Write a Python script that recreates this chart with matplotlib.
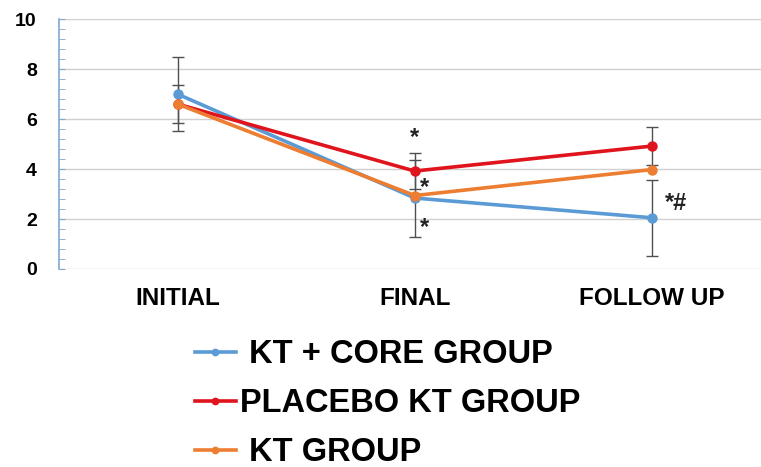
"""
plot.py -- three-group line chart with SD error bars (INITIAL / FINAL / FOLLOW UP)
Output: out.png (761 x 467 px)
"""
import matplotlib
matplotlib.use("Agg")
import matplotlib.pyplot as plt
from matplotlib.ticker import MultipleLocator

# ── Data ──────────────────────────────────────────────────────────────────────
CATEGORIES = ["INITIAL", "FINAL", "FOLLOW UP"]

core_mean    = [7.0, 2.84, 2.05]
core_sd      = [1.48, 1.54, 1.52]
placebo_mean = [6.6, 3.92, 4.92]
placebo_sd   = [0.75, 0.73, 0.75]
kt_mean      = [6.6, 2.94, 3.98]

SERIES = [
    (" KT + CORE GROUP",   core_mean,    core_sd,    "#5B9BD5"),
    ("PLACEBO KT GROUP",   placebo_mean, placebo_sd, "#E0141C"),
    (" KT GROUP",          kt_mean,      None,       "#ED7D31"),
]

# significance marks: (category index, y value, text, x offset)
MARKS = [
    (1, 5.25, "*",  0.0),
    (1, 3.25, "*",  0.04),
    (1, 1.65, "*",  0.04),
    (2, 2.62, "*#", 0.1),
]

plt.rcParams.update({
    "font.family": ["Liberation Sans", "DejaVu Sans"],
    "font.weight": "bold",
})

fig = plt.figure(figsize=(7.61, 4.67), dpi=100)
ax = fig.add_axes([0.0775, 0.424, 0.935, 0.535])

x = list(range(len(CATEGORIES)))

# error bars first (thin dark grey)
for label, mean, sd, color in SERIES:
    if sd is not None:
        ax.errorbar(x, mean, yerr=sd, fmt="none", ecolor="#505050",
                    elinewidth=1.0, capsize=4.5, capthick=1.0, zorder=2)

for label, mean, sd, color in SERIES:
    ax.plot(x, mean, "-o", color=color, linewidth=2.6, markersize=6.5,
            label=label, zorder=3)

for i, y, txt, dx in MARKS:
    ax.text(i + dx, y, txt, ha="center", va="center", fontsize=17,
            color="#222222")

ax.set_xlim(-0.5, 2.5)
ax.set_ylim(0, 10)
ax.yaxis.set_major_locator(MultipleLocator(2))
ax.yaxis.set_minor_locator(MultipleLocator(0.4))
ax.set_xticks(x)
ax.set_xticklabels(CATEGORIES, fontsize=17.5, fontweight="bold")
ax.tick_params(axis="y", which="major", labelsize=14, direction="in",
               length=4, color="#7FA8CF", pad=16)
ax.tick_params(axis="y", which="minor", direction="in", length=4,
               color="#7FA8CF")
ax.tick_params(axis="x", length=0, pad=13)

ax.yaxis.grid(True, color="#D0D0D0", linewidth=1.0)
ax.set_axisbelow(True)
for side in ["top", "right", "bottom"]:
    ax.spines[side].set_visible(False)
ax.spines["left"].set_color("#7FA8CF")
ax.spines["left"].set_linewidth(1.2)

leg = fig.legend(loc="upper left", bbox_to_anchor=(0.256, 0.274),
                 frameon=False, fontsize=23.5, handlelength=1.25,
                 handletextpad=0.12, labelspacing=0.55, borderaxespad=0,
                 borderpad=0, markerscale=0.7)
for t in leg.get_texts():
    t.set_fontweight("bold")

fig.savefig("out.png", dpi=100)
plt.close(fig)
